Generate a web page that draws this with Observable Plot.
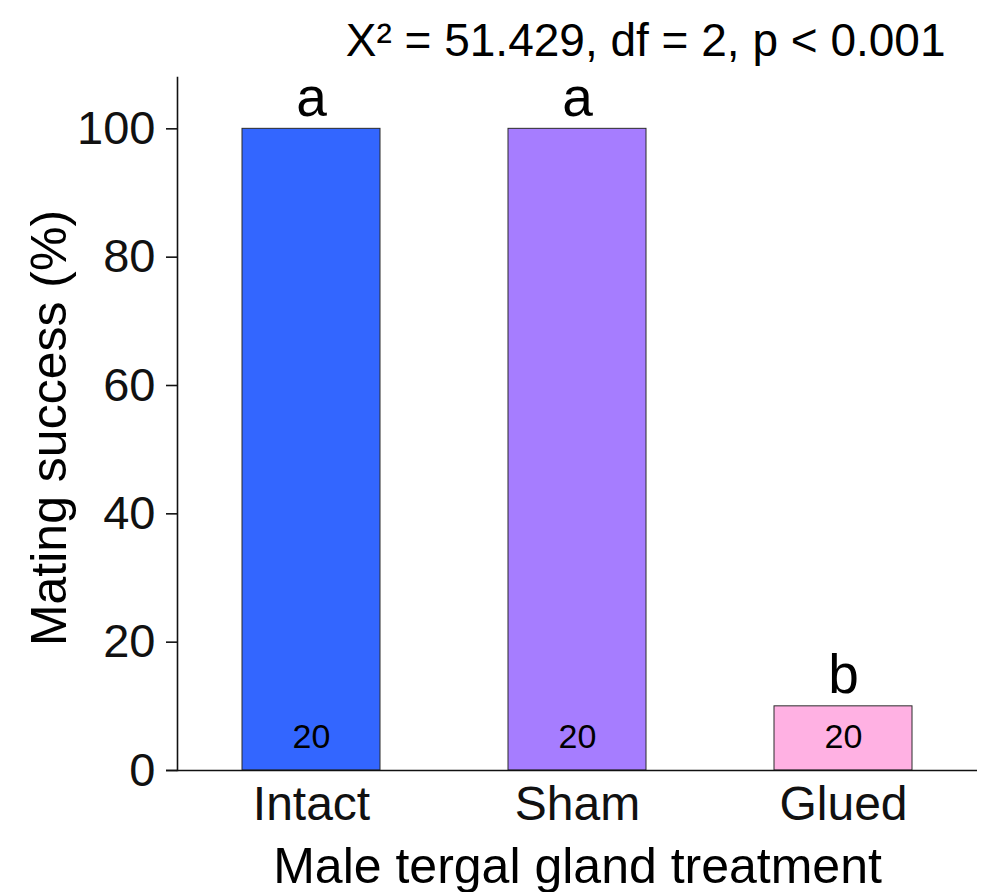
<!DOCTYPE html>
<html>
<head>
<meta charset="utf-8">
<script src="https://cdn.jsdelivr.net/npm/d3@7"></script>
<script src="https://cdn.jsdelivr.net/npm/@observablehq/plot@0.6"></script>
<style>
  html, body { margin: 0; padding: 0; background: #fff; }
  #chart svg { display: block; }
</style>
</head>
<body>
<div id="chart"></div>
<script>
const categories = ["Intact", "Sham", "Glued"];
const success = [100, 100, 10];
const letters = ["a", "a", "b"];
const sampleSizes = [20, 20, 20];
const barColors = ["#3366ff", "#a67dff", "#ffb1e3"];
const yTicks = [0, 20, 40, 60, 80, 100];
const titleText = "X\u00B2 = 51.429, df = 2, p < 0.001";
const xLabel = "Male tergal gland treatment";
const yLabel = "Mating success (%)";

const rows = categories.map((c, i) => ({
  treatment: c, value: success[i], letter: letters[i], n: String(sampleSizes[i])
}));

const ink = "#111";

const chart = Plot.plot({
  width: 986,
  height: 892,
  marginTop: 77,
  marginBottom: 122,
  marginLeft: 177,
  marginRight: 9,
  style: { fontFamily: "'Liberation Sans', Arial, sans-serif", background: "#fff", color: ink },
  x: { domain: categories, paddingInner: 0.4825, paddingOuter: 0.24125, label: null },
  y: { domain: [0, 108], label: null },
  color: { domain: categories, range: barColors },
  marks: [
    Plot.barY(rows, { x: "treatment", y: "value", fill: "treatment", stroke: "#2a2a2a", strokeWidth: 1 }),
    Plot.frame({ anchor: "left", stroke: ink, strokeWidth: 1.6 }),
    Plot.ruleY([0], { stroke: ink, strokeWidth: 1.6, insetLeft: -11 }),
    Plot.axisY({ ticks: yTicks, tickSize: 11, tickPadding: 11, fontSize: 47, stroke: ink, strokeWidth: 1.6, label: null, tickFormat: d => String(d) }),
    Plot.axisX({ tickSize: 0, tickPadding: 15, fontSize: 48, label: null }),
    Plot.text(rows, { x: "treatment", y: "value", text: "letter", lineAnchor: "bottom", dy: -13, fontSize: 55, fill: "#000" }),
    Plot.text(rows, { x: "treatment", y: 0, text: "n", lineAnchor: "bottom", dy: -23, fontSize: 34, fill: "#000" }),
    Plot.text([titleText], { frameAnchor: "top-right", text: d => d, textAnchor: "end", lineAnchor: "bottom", dx: -32, dy: -22, fontSize: 46, fill: "#000" }),
    Plot.text([xLabel], { frameAnchor: "bottom", text: d => d, textAnchor: "middle", lineAnchor: "bottom", dy: 112, fontSize: 50, fill: "#000" }),
    Plot.text([yLabel], { frameAnchor: "left", text: d => d, rotate: -90, textAnchor: "middle", lineAnchor: "bottom", dx: -112, dy: 4, fontSize: 50, fill: "#000" })
  ]
});

document.getElementById("chart").appendChild(chart);
</script>
</body>
</html>
